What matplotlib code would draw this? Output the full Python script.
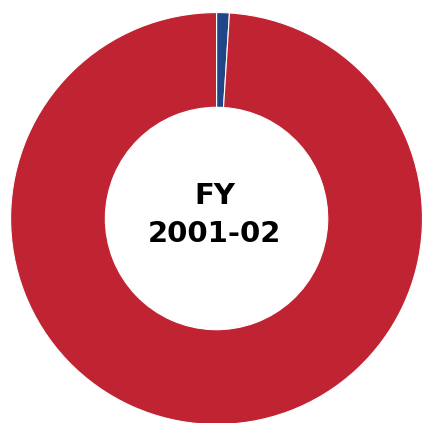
import matplotlib
matplotlib.use("Agg")
import matplotlib.pyplot as plt

labels = ["Share A", "Share B"]
values = [1.0, 99.0]
colors = ["#1f4788", "#c02433"]
center_lines = ["FY", "2001-02"]

fig = plt.figure(figsize=(4.23, 4.23), dpi=100)
ax = fig.add_axes([0, 0, 1, 1])

ax.pie(values, colors=colors, startangle=90, counterclock=False, radius=1.0,
       wedgeprops=dict(width=0.46, edgecolor="white", linewidth=0.8))

# two lines of the centre label, placed on their baselines
ax.text(-0.01, 0.071, center_lines[0], ha="center", va="baseline", fontsize=21,
        fontweight="bold", family=["DejaVu Sans"])
ax.text(-0.01, -0.114, center_lines[1], ha="center", va="baseline", fontsize=21,
        fontweight="bold", family=["DejaVu Sans"])

# keep the ring in the same place as the reference
ax.set_xlim(-1.051, 1.002)
ax.set_ylim(-0.993, 1.061)
ax.set_aspect("equal")
ax.axis("off")

fig.savefig("out.png", dpi=100)
